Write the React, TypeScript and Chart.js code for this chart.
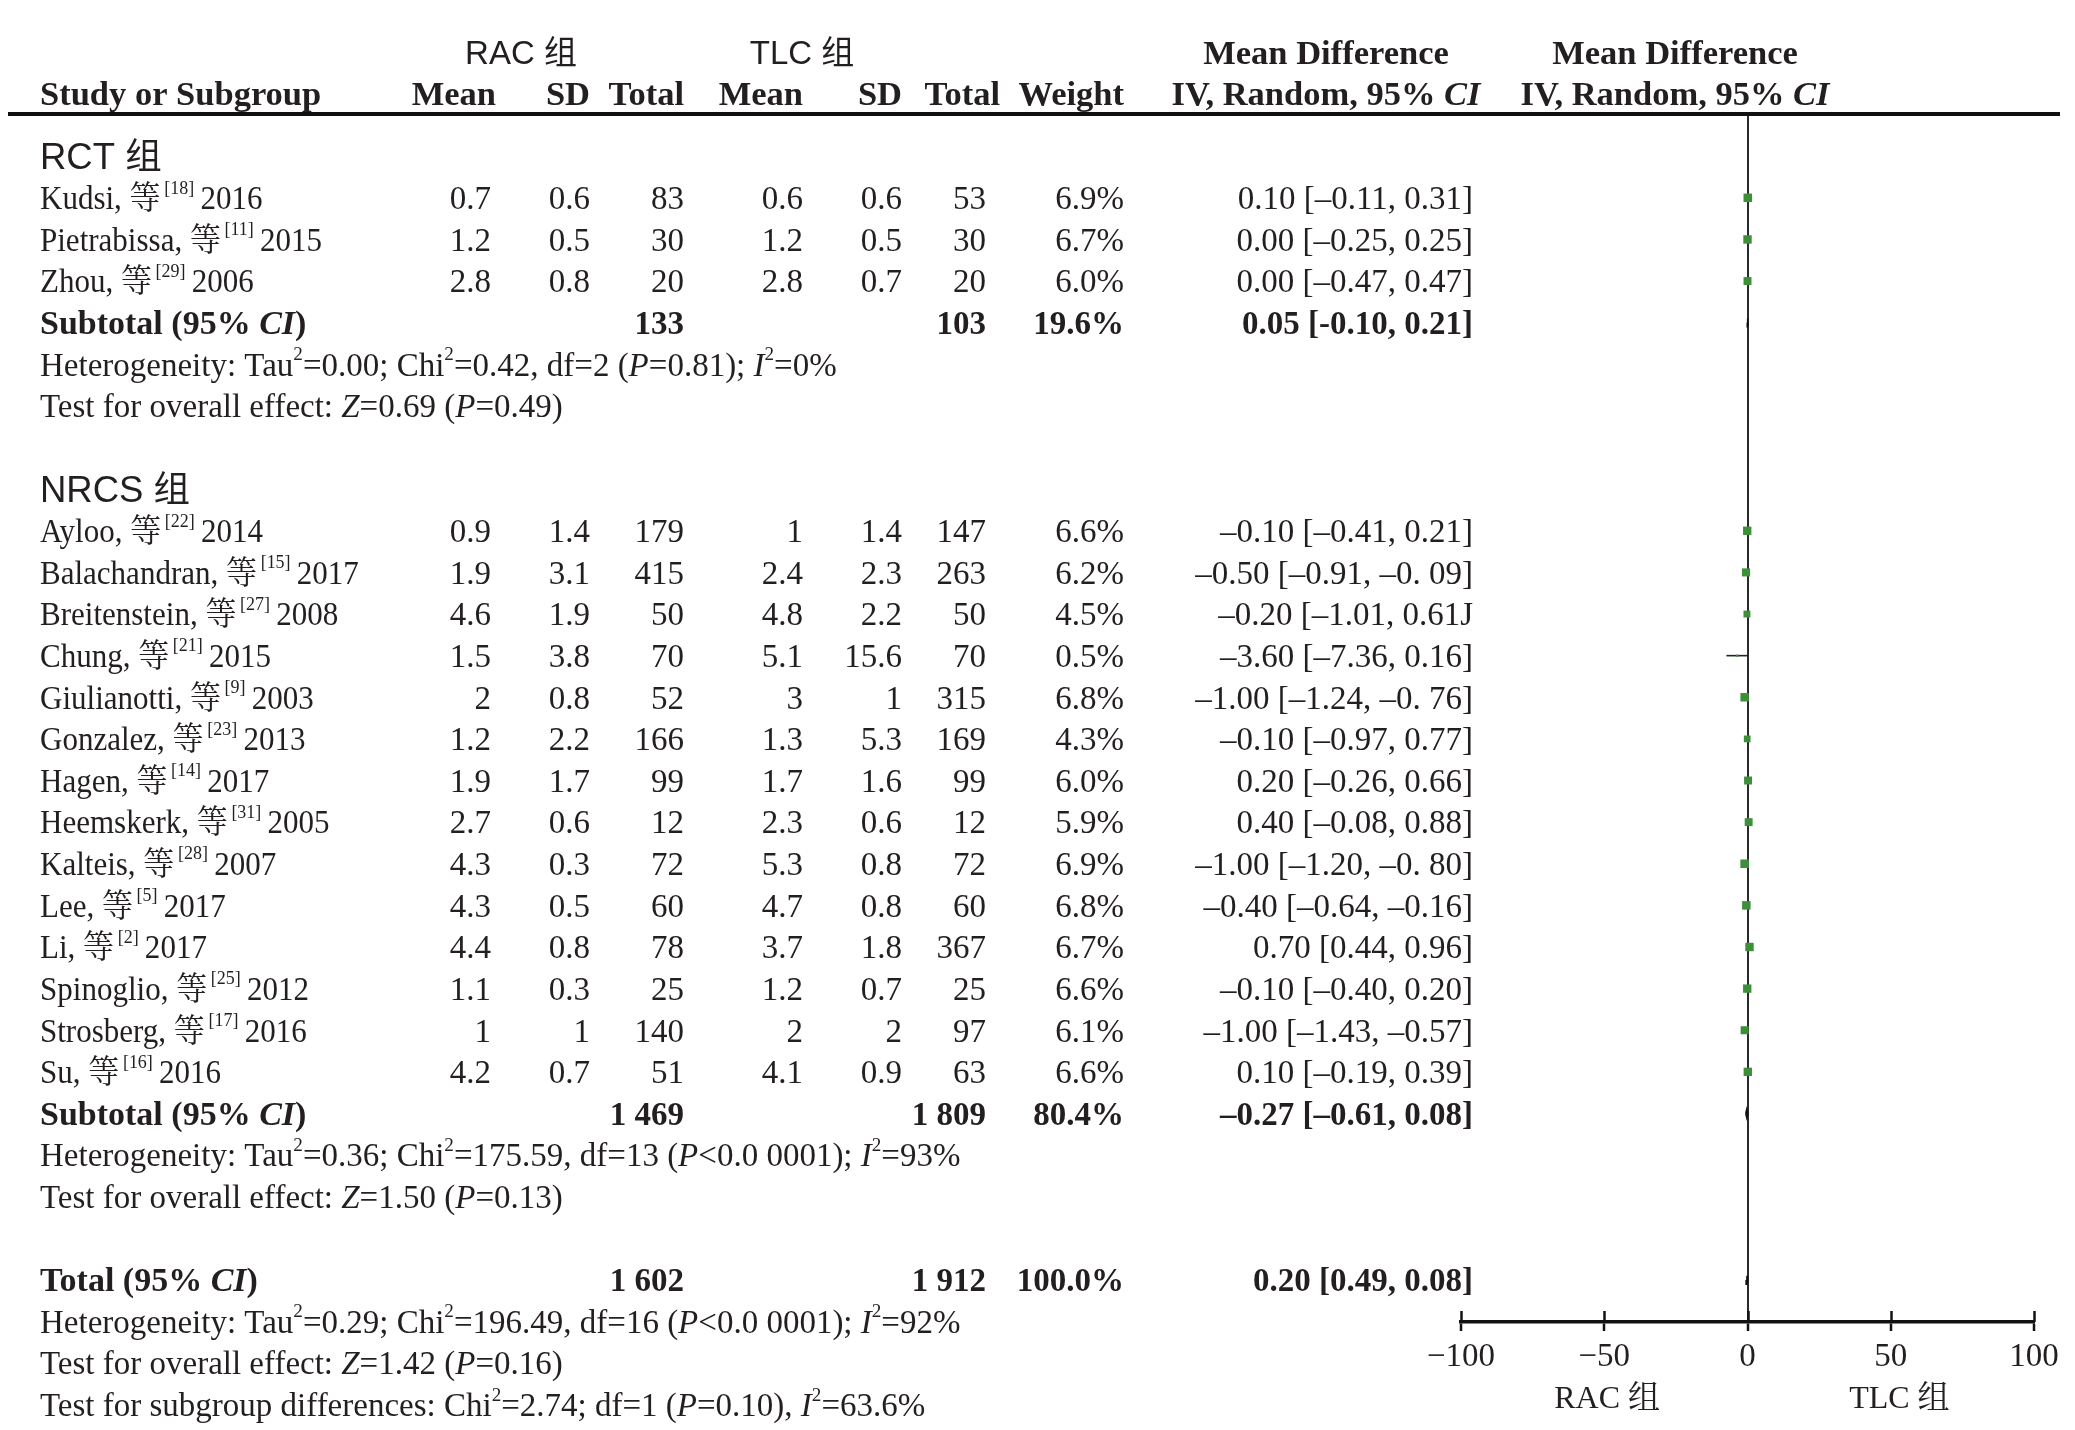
import React, { useEffect, useRef } from 'react';
import { Chart, registerables } from 'chart.js';

Chart.register(...registerables);

const SERIF = '"Liberation Serif", "Times New Roman", "Noto Serif CJK SC", "Noto Sans CJK SC", serif';
const SANS = '"Liberation Sans", Arial, "Noto Sans CJK SC", sans-serif';
const INK = '#231f20';

// ---------- data ----------
const groupKeys = ['RCT', 'NRCS'];
const groupLabels = ['RCT 组', 'NRCS 组'];

const studyNames = ['Kudsi', 'Pietrabissa', 'Zhou', 'Ayloo', 'Balachandran', 'Breitenstein', 'Chung', 'Giulianotti', 'Gonzalez', 'Hagen', 'Heemskerk', 'Kalteis', 'Lee', 'Li', 'Spinoglio', 'Strosberg', 'Su'];
const studyRefs = ['18', '11', '29', '22', '15', '27', '21', '9', '23', '14', '31', '28', '5', '2', '25', '17', '16'];
const studyYears = ['2016', '2015', '2006', '2014', '2017', '2008', '2015', '2003', '2013', '2017', '2005', '2007', '2017', '2017', '2012', '2016', '2016'];
const studyGroup = ['RCT', 'RCT', 'RCT', 'NRCS', 'NRCS', 'NRCS', 'NRCS', 'NRCS', 'NRCS', 'NRCS', 'NRCS', 'NRCS', 'NRCS', 'NRCS', 'NRCS', 'NRCS', 'NRCS'];

const racMean = [0.7, 1.2, 2.8, 0.9, 1.9, 4.6, 1.5, 2, 1.2, 1.9, 2.7, 4.3, 4.3, 4.4, 1.1, 1, 4.2];
const racSD = [0.6, 0.5, 0.8, 1.4, 3.1, 1.9, 3.8, 0.8, 2.2, 1.7, 0.6, 0.3, 0.5, 0.8, 0.3, 1, 0.7];
const racN = [83, 30, 20, 179, 415, 50, 70, 52, 166, 99, 12, 72, 60, 78, 25, 140, 51];
const tlcMean = [0.6, 1.2, 2.8, 1, 2.4, 4.8, 5.1, 3, 1.3, 1.7, 2.3, 5.3, 4.7, 3.7, 1.2, 2, 4.1];
const tlcSD = [0.6, 0.5, 0.7, 1.4, 2.3, 2.2, 15.6, 1, 5.3, 1.6, 0.6, 0.8, 0.8, 1.8, 0.7, 2, 0.9];
const tlcN = [53, 30, 20, 147, 263, 50, 70, 315, 169, 99, 12, 72, 60, 367, 25, 97, 63];
const weights = [6.9, 6.7, 6.0, 6.6, 6.2, 4.5, 0.5, 6.8, 4.3, 6.0, 5.9, 6.9, 6.8, 6.7, 6.6, 6.1, 6.6];

const md = [0.1, 0.0, 0.0, -0.1, -0.5, -0.2, -3.6, -1.0, -0.1, 0.2, 0.4, -1.0, -0.4, 0.7, -0.1, -1.0, 0.1];
const ciLow = [-0.11, -0.25, -0.47, -0.41, -0.91, -1.01, -7.36, -1.24, -0.97, -0.26, -0.08, -1.2, -0.64, 0.44, -0.4, -1.43, -0.19];
const ciHigh = [0.31, 0.25, 0.47, 0.21, -0.09, 0.61, 0.16, -0.76, 0.77, 0.66, 0.88, -0.8, -0.16, 0.96, 0.2, -0.57, 0.39];
const ciText = [
  '0.10 [–0.11, 0.31]', '0.00 [–0.25, 0.25]', '0.00 [–0.47, 0.47]',
  '–0.10 [–0.41, 0.21]', '–0.50 [–0.91, –0. 09]', '–0.20 [–1.01, 0.61J', '–3.60 [–7.36, 0.16]',
  '–1.00 [–1.24, –0. 76]', '–0.10 [–0.97, 0.77]', '0.20 [–0.26, 0.66]', '0.40 [–0.08, 0.88]',
  '–1.00 [–1.20, –0. 80]', '–0.40 [–0.64, –0.16]', '0.70 [0.44, 0.96]', '–0.10 [–0.40, 0.20]',
  '–1.00 [–1.43, –0.57]', '0.10 [–0.19, 0.39]',
];

// summaries: RCT subtotal, NRCS subtotal, overall total
const summaryLabels = ['Subtotal (95% {i:CI})', 'Subtotal (95% {i:CI})', 'Total (95% {i:CI})'];
const summaryRacN = ['133', '1 469', '1 602'];
const summaryTlcN = ['103', '1 809', '1 912'];
const summaryWeight = ['19.6%', '80.4%', '100.0%'];
const summaryText = ['0.05 [-0.10, 0.21]', '–0.27 [–0.61, 0.08]', '0.20 [0.49, 0.08]'];
const summaryMd = [0.05, -0.27, -0.2];
const summaryLow = [-0.1, -0.61, -0.49];
const summaryHigh = [0.21, 0.08, 0.08];
const hetTexts = [
  'Heterogeneity: Tau{s:2}=0.00; Chi{s:2}=0.42, df=2 ({i:P}=0.81); {i:I}{s:2}=0%',
  'Heterogeneity: Tau{s:2}=0.36; Chi{s:2}=175.59, df=13 ({i:P}<0.0 0001); {i:I}{s:2}=93%',
  'Heterogeneity: Tau{s:2}=0.29; Chi{s:2}=196.49, df=16 ({i:P}<0.0 0001); {i:I}{s:2}=92%',
];
const effectTexts = [
  'Test for overall effect: {i:Z}=0.69 ({i:P}=0.49)',
  'Test for overall effect: {i:Z}=1.50 ({i:P}=0.13)',
  'Test for overall effect: {i:Z}=1.42 ({i:P}=0.16)',
];
const subgroupText = 'Test for subgroup differences: Chi{s:2}=2.74; df=1 ({i:P}=0.10), {i:I}{s:2}=63.6%';

const xTicks = [-100, -50, 0, 50, 100];
const favourLabels = ['RAC 组', 'TLC 组'];
const favourAt = [-49, 53];

// ---------- row layout ----------
const studyRows: number[] = [];
const groupHeaderRows: number[] = [];
const subtotalRows: number[] = [];
(() => {
  let r = 0;
  groupKeys.forEach((g) => {
    groupHeaderRows.push(r);
    r++;
    studyGroup.forEach((sg, i) => {
      if (sg === g) {
        studyRows[i] = r;
        r++;
      }
    });
    subtotalRows.push(r);
    r += 4;
  });
  subtotalRows.push(r);
})();
const summaryRows = subtotalRows; // [4, 23, 27]

// ---------- rich text ----------
type Seg = { t: string; i?: boolean; s?: boolean };
function parse(str: string): Seg[] {
  const out: Seg[] = [];
  const re = /\{([is]):([^}]*)\}/g;
  let last = 0;
  let m: RegExpExecArray | null;
  while ((m = re.exec(str))) {
    if (m.index > last) out.push({ t: str.slice(last, m.index) });
    out.push({ t: m[2], i: m[1] === 'i', s: m[1] === 's' });
    last = re.lastIndex;
  }
  if (last < str.length) out.push({ t: str.slice(last) });
  return out;
}

const TEXT_DY = 2.6;
type TOpt = { size?: number; bold?: boolean; family?: string; align?: 'left' | 'right' | 'center'; color?: string; sx?: number };
function drawText(ctx: CanvasRenderingContext2D, str: string, x: number, y0: number, o: TOpt = {}) {
  const size = o.size ?? 33;
  const family = o.family ?? SERIF;
  const sx = o.sx ?? 1;
  const y = y0 + TEXT_DY;
  const segs = parse(str);
  const fontOf = (s: Seg) => `${s.i ? 'italic ' : ''}${o.bold ? 'bold ' : ''}${s.s ? size * 0.58 : size}px ${family}`;
  let w = 0;
  const widths = segs.map((s) => {
    ctx.font = fontOf(s);
    const ww = ctx.measureText(s.t).width;
    w += ww;
    return ww;
  });
  let start = x;
  if (o.align === 'right') start = x - w * sx;
  else if (o.align === 'center') start = x - (w * sx) / 2;
  ctx.save();
  ctx.translate(start, y);
  ctx.scale(sx, 1);
  ctx.fillStyle = o.color ?? INK;
  ctx.textAlign = 'left';
  ctx.textBaseline = 'middle';
  let cx = 0;
  segs.forEach((s, k) => {
    ctx.font = fontOf(s);
    ctx.fillText(s.t, cx, s.s ? -size * 0.36 : 0);
    cx += widths[k];
  });
  ctx.restore();
}

// column anchors (canvas px)
const C = {
  name: 32,
  racMean: 483, racSD: 582, racN: 676,
  tlcMean: 795, tlcSD: 894, tlcN: 978,
  weight: 1116, ci: 1465,
  hRacMean: 488, hTlcN: 992,
  mdHead: 1318, plotHead: 1667,
  racHead: 513, tlcHead: 794,
};
const HEAD = 34.5;

const tablePlugin = {
  id: 'forestTable',
  afterDraw(chart: any) {
    const ctx: CanvasRenderingContext2D = chart.ctx;
    const ys = chart.scales.y;
    const xs = chart.scales.x;
    const Y = (row: number) => ys.getPixelForValue(row);
    const area = chart.chartArea;
    ctx.save();

    // header rule
    ctx.fillStyle = '#111';
    ctx.fillRect(0, area.top - 2, 2052, 4);

    // upward part of the axis ticks
    ctx.strokeStyle = '#111';
    ctx.lineWidth = 2.5;
    xs.ticks.forEach((t: any) => {
      const px = Math.round(xs.getPixelForValue(t.value)) + 0.5;
      ctx.beginPath();
      ctx.moveTo(px, area.bottom - 11);
      ctx.lineTo(px, area.bottom);
      ctx.stroke();
    });

    // header
    const h1 = Y(-2.5);
    const h2 = Y(-1.5);
    drawText(ctx, 'RAC 组', C.racHead, h1, { family: SANS, size: 33, align: 'center' });
    drawText(ctx, 'TLC 组', C.tlcHead, h1, { family: SANS, size: 33, align: 'center' });
    drawText(ctx, 'Mean Difference', C.mdHead, h1, { bold: true, size: HEAD, align: 'center' });
    drawText(ctx, 'Mean Difference', C.plotHead, h1, { bold: true, size: HEAD, align: 'center' });
    drawText(ctx, 'Study or Subgroup', C.name, h2, { bold: true, size: HEAD });
    drawText(ctx, 'Mean', C.hRacMean, h2, { bold: true, size: HEAD, align: 'right' });
    drawText(ctx, 'SD', C.racSD, h2, { bold: true, size: HEAD, align: 'right' });
    drawText(ctx, 'Total', C.racN, h2, { bold: true, size: HEAD, align: 'right' });
    drawText(ctx, 'Mean', C.tlcMean, h2, { bold: true, size: HEAD, align: 'right' });
    drawText(ctx, 'SD', C.tlcSD, h2, { bold: true, size: HEAD, align: 'right' });
    drawText(ctx, 'Total', C.hTlcN, h2, { bold: true, size: HEAD, align: 'right' });
    drawText(ctx, 'Weight', C.weight, h2, { bold: true, size: HEAD, align: 'right' });
    drawText(ctx, 'IV, Random, 95% {i:CI}', C.mdHead, h2, { bold: true, size: HEAD, align: 'center' });
    drawText(ctx, 'IV, Random, 95% {i:CI}', C.plotHead, h2, { bold: true, size: HEAD, align: 'center' });

    // group headers
    groupHeaderRows.forEach((r, gi) => {
      drawText(ctx, groupLabels[gi], C.name, Y(r), { family: SANS, size: 36.5 });
    });

    // studies
    studyNames.forEach((n, i) => {
      const y = Y(studyRows[i]);
      drawText(ctx, `${n}, 等{s:\u2009[${studyRefs[i]}]}\u2009${studyYears[i]}`, C.name, y, { sx: 0.94 });
      drawText(ctx, String(racMean[i]), C.racMean, y, { align: 'right' });
      drawText(ctx, String(racSD[i]), C.racSD, y, { align: 'right' });
      drawText(ctx, String(racN[i]), C.racN, y, { align: 'right' });
      drawText(ctx, String(tlcMean[i]), C.tlcMean, y, { align: 'right' });
      drawText(ctx, String(tlcSD[i]), C.tlcSD, y, { align: 'right' });
      drawText(ctx, String(tlcN[i]), C.tlcN, y, { align: 'right' });
      drawText(ctx, weights[i].toFixed(1) + '%', C.weight, y, { align: 'right' });
      drawText(ctx, ciText[i], C.ci, y, { align: 'right' });
    });

    // summaries
    summaryRows.forEach((r, k) => {
      const y = Y(r);
      drawText(ctx, summaryLabels[k], C.name, y, { bold: true, size: 34 });
      drawText(ctx, summaryRacN[k], C.racN, y, { bold: true, align: 'right' });
      drawText(ctx, summaryTlcN[k], C.tlcN, y, { bold: true, align: 'right' });
      drawText(ctx, summaryWeight[k], C.weight, y, { bold: true, align: 'right' });
      drawText(ctx, summaryText[k], C.ci, y, { bold: true, align: 'right' });
      drawText(ctx, hetTexts[k], C.name, Y(r + 1));
      drawText(ctx, effectTexts[k], C.name, Y(r + 2));
    });
    drawText(ctx, subgroupText, C.name, Y(summaryRows[2] + 3));

    // favours labels
    favourLabels.forEach((l, k) => {
      drawText(ctx, l, xs.getPixelForValue(favourAt[k]), area.bottom + 75, { size: 32, align: 'center' });
    });

    ctx.restore();
  },
};

export default function App() {
  const ref = useRef<HTMLCanvasElement>(null);
  useEffect(() => {
    const canvas = ref.current;
    if (!canvas) return;

    const datasets: any[] = [];
    // CI whiskers
    studyNames.forEach((_, i) => {
      datasets.push({
        type: 'line',
        data: [
          { x: ciLow[i], y: studyRows[i] },
          { x: ciHigh[i], y: studyRows[i] },
        ],
        borderColor: '#222',
        borderWidth: 1.6,
        pointRadius: 0,
        order: 3,
      });
    });
    // study squares
    datasets.push({
      type: 'scatter',
      data: studyNames.map((_, i) => ({ x: md[i], y: studyRows[i] })),
      pointStyle: 'rect',
      pointRadius: weights.map((w) => 2.3 * Math.sqrt(w)),
      backgroundColor: '#3d8f3a',
      borderWidth: 0,
      order: 2,
    });
    // summary diamonds
    summaryRows.forEach((r, k) => {
      datasets.push({
        type: 'line',
        data: [
          { x: summaryLow[k], y: r },
          { x: summaryMd[k], y: r - 0.1 },
          { x: summaryHigh[k], y: r },
          { x: summaryMd[k], y: r + 0.1 },
          { x: summaryLow[k], y: r },
        ],
        borderColor: '#111',
        backgroundColor: '#111',
        borderWidth: 1.5,
        fill: 'shape',
        pointRadius: 0,
        tension: 0,
        order: 1,
      });
    });

    const chart = new Chart(canvas, {
      type: 'scatter',
      data: { datasets },
      options: {
        responsive: false,
        animation: false,
        events: [],
        layout: { padding: { left: 1453, right: 33, top: 106, bottom: 48 } },
        plugins: { legend: { display: false }, tooltip: { enabled: false } },
        scales: {
          x: {
            type: 'linear',
            position: 'bottom',
            min: xTicks[0],
            max: xTicks[xTicks.length - 1],
            afterFit: (s: any) => {
              s.height = 60;
            },
            afterBuildTicks: (s: any) => {
              s.ticks = xTicks.map((v) => ({ value: v }));
            },
            ticks: {
              color: INK,
              font: { family: SERIF, size: 33 },
              padding: 7,
              maxRotation: 0,
              autoSkip: false,
              callback: (v: any) => (Number(v) < 0 ? '−' + Math.abs(Number(v)) : String(v)),
            },
            grid: {
              drawOnChartArea: true,
              color: (c: any) => (c.tick && c.tick.value === 0 ? '#2a2a2a' : 'rgba(0,0,0,0)'),
              lineWidth: 2,
              tickColor: '#111',
              tickLength: 9,
              tickWidth: 2.5,
            },
            border: { display: true, color: '#111', width: 3.5 },
          },
          y: {
            type: 'linear',
            reverse: true,
            min: -1.014,
            max: 28.01,
            display: false,
          },
        },
      },
      plugins: [tablePlugin],
    });
    return () => chart.destroy();
  }, []);

  return (
    <canvas
      ref={ref}
      width={2059}
      height={1422}
      style={{ display: 'block', position: 'absolute', left: 8, top: 8 }}
    />
  );
}
